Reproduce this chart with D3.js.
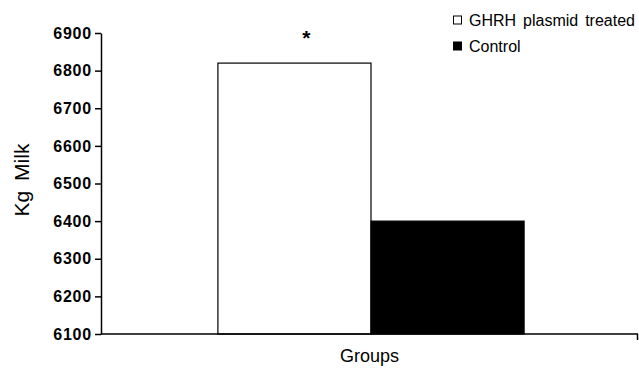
<!DOCTYPE html>
<html><head><meta charset="utf-8">
<script src="https://cdn.jsdelivr.net/npm/d3@7/dist/d3.min.js"></script>
<style>body{margin:0;background:#fff}svg{display:block}text{font-family:Arial,"Liberation Sans",sans-serif}</style>
</head><body>
<svg id="c" width="639" height="369"></svg>
<script>
const categories = ["Groups"];
const seriesNames = ["GHRH plasmid treated", "Control"];
const seriesValues = [6820, 6400];
const seriesColors = ["#ffffff", "#000000"];
const yTicks = [6100, 6200, 6300, 6400, 6500, 6600, 6700, 6800, 6900];
const significance = ["*", ""];

const svg = d3.select("#c");
const m = {left: 101, right: 638, top: 33, bottom: 334};
const y = d3.scaleLinear().domain([6100, 6900]).range([m.bottom, m.top]);
const x0 = d3.scaleBand().domain(categories).range([m.left + 3, m.right]).paddingInner(0).paddingOuter(0.372);
const x1 = d3.scaleBand().domain(seriesNames).range([0, x0.bandwidth()]);

// bars
const g = svg.append("g");
categories.forEach(c => {
  seriesNames.forEach((s, i) => {
    g.append("rect")
      .attr("x", x0(c) + x1(s))
      .attr("y", y(seriesValues[i]))
      .attr("width", x1.bandwidth())
      .attr("height", y(6100) - y(seriesValues[i]))
      .attr("fill", seriesColors[i])
      .attr("stroke", "#000").attr("stroke-width", 1.2);
    if (significance[i]) {
      g.append("text").attr("x", x0(c) + x1(s) + x1.bandwidth()/2 + 12)
        .attr("y", y(seriesValues[i]) - 18).attr("text-anchor", "middle")
        .attr("font-size", 21).attr("font-weight", "bold").text(significance[i]);
    }
  });
});

// y axis
const ya = svg.append("g").attr("transform", `translate(${m.left},0)`)
  .call(d3.axisLeft(y).tickValues(yTicks).tickSize(6).tickSizeOuter(0).tickFormat(d3.format("d")));
ya.select(".domain").attr("stroke", "#000").attr("stroke-width", 1.5);
ya.selectAll(".tick line").attr("stroke", "#000").attr("stroke-width", 1.5);
ya.selectAll(".tick text").attr("font-size", 16).attr("font-weight", "bold")
  .attr("font-family", "Arial, 'Liberation Sans', sans-serif").attr("fill", "#000")
  .attr("x", -9).style("letter-spacing", "0.8px");

// x axis
const xa = svg.append("g").attr("transform", `translate(0,${m.bottom})`);
xa.append("line").attr("x1", m.left).attr("x2", m.right).attr("stroke", "#000").attr("stroke-width", 1.5);
xa.append("line").attr("x1", m.right - 0.5).attr("x2", m.right - 0.5).attr("y1", 0).attr("y2", 6).attr("stroke", "#000").attr("stroke-width", 1.5);

svg.append("text").attr("x", (m.left + m.right)/2).attr("y", 362)
  .attr("text-anchor", "middle").attr("font-size", 18).text(categories[0]);

svg.append("text").attr("transform", "translate(29,180) rotate(-90)")
  .attr("text-anchor", "middle").attr("font-size", 21).style("word-spacing", "4px").text("Kg Milk");

// legend
const lg = svg.append("g");
seriesNames.forEach((s, i) => {
  const yy = 20 + i * 26;
  lg.append("rect").attr("x", 453.5).attr("y", yy - 4).attr("width", 8).attr("height", 8)
    .attr("fill", seriesColors[i]).attr("stroke", "#000").attr("stroke-width", 1);
  lg.append("text").attr("x", 469).attr("y", yy + 6).attr("font-size", 16)
    .style("word-spacing", "2.5px").text(s);
});
</script>
</body></html>
